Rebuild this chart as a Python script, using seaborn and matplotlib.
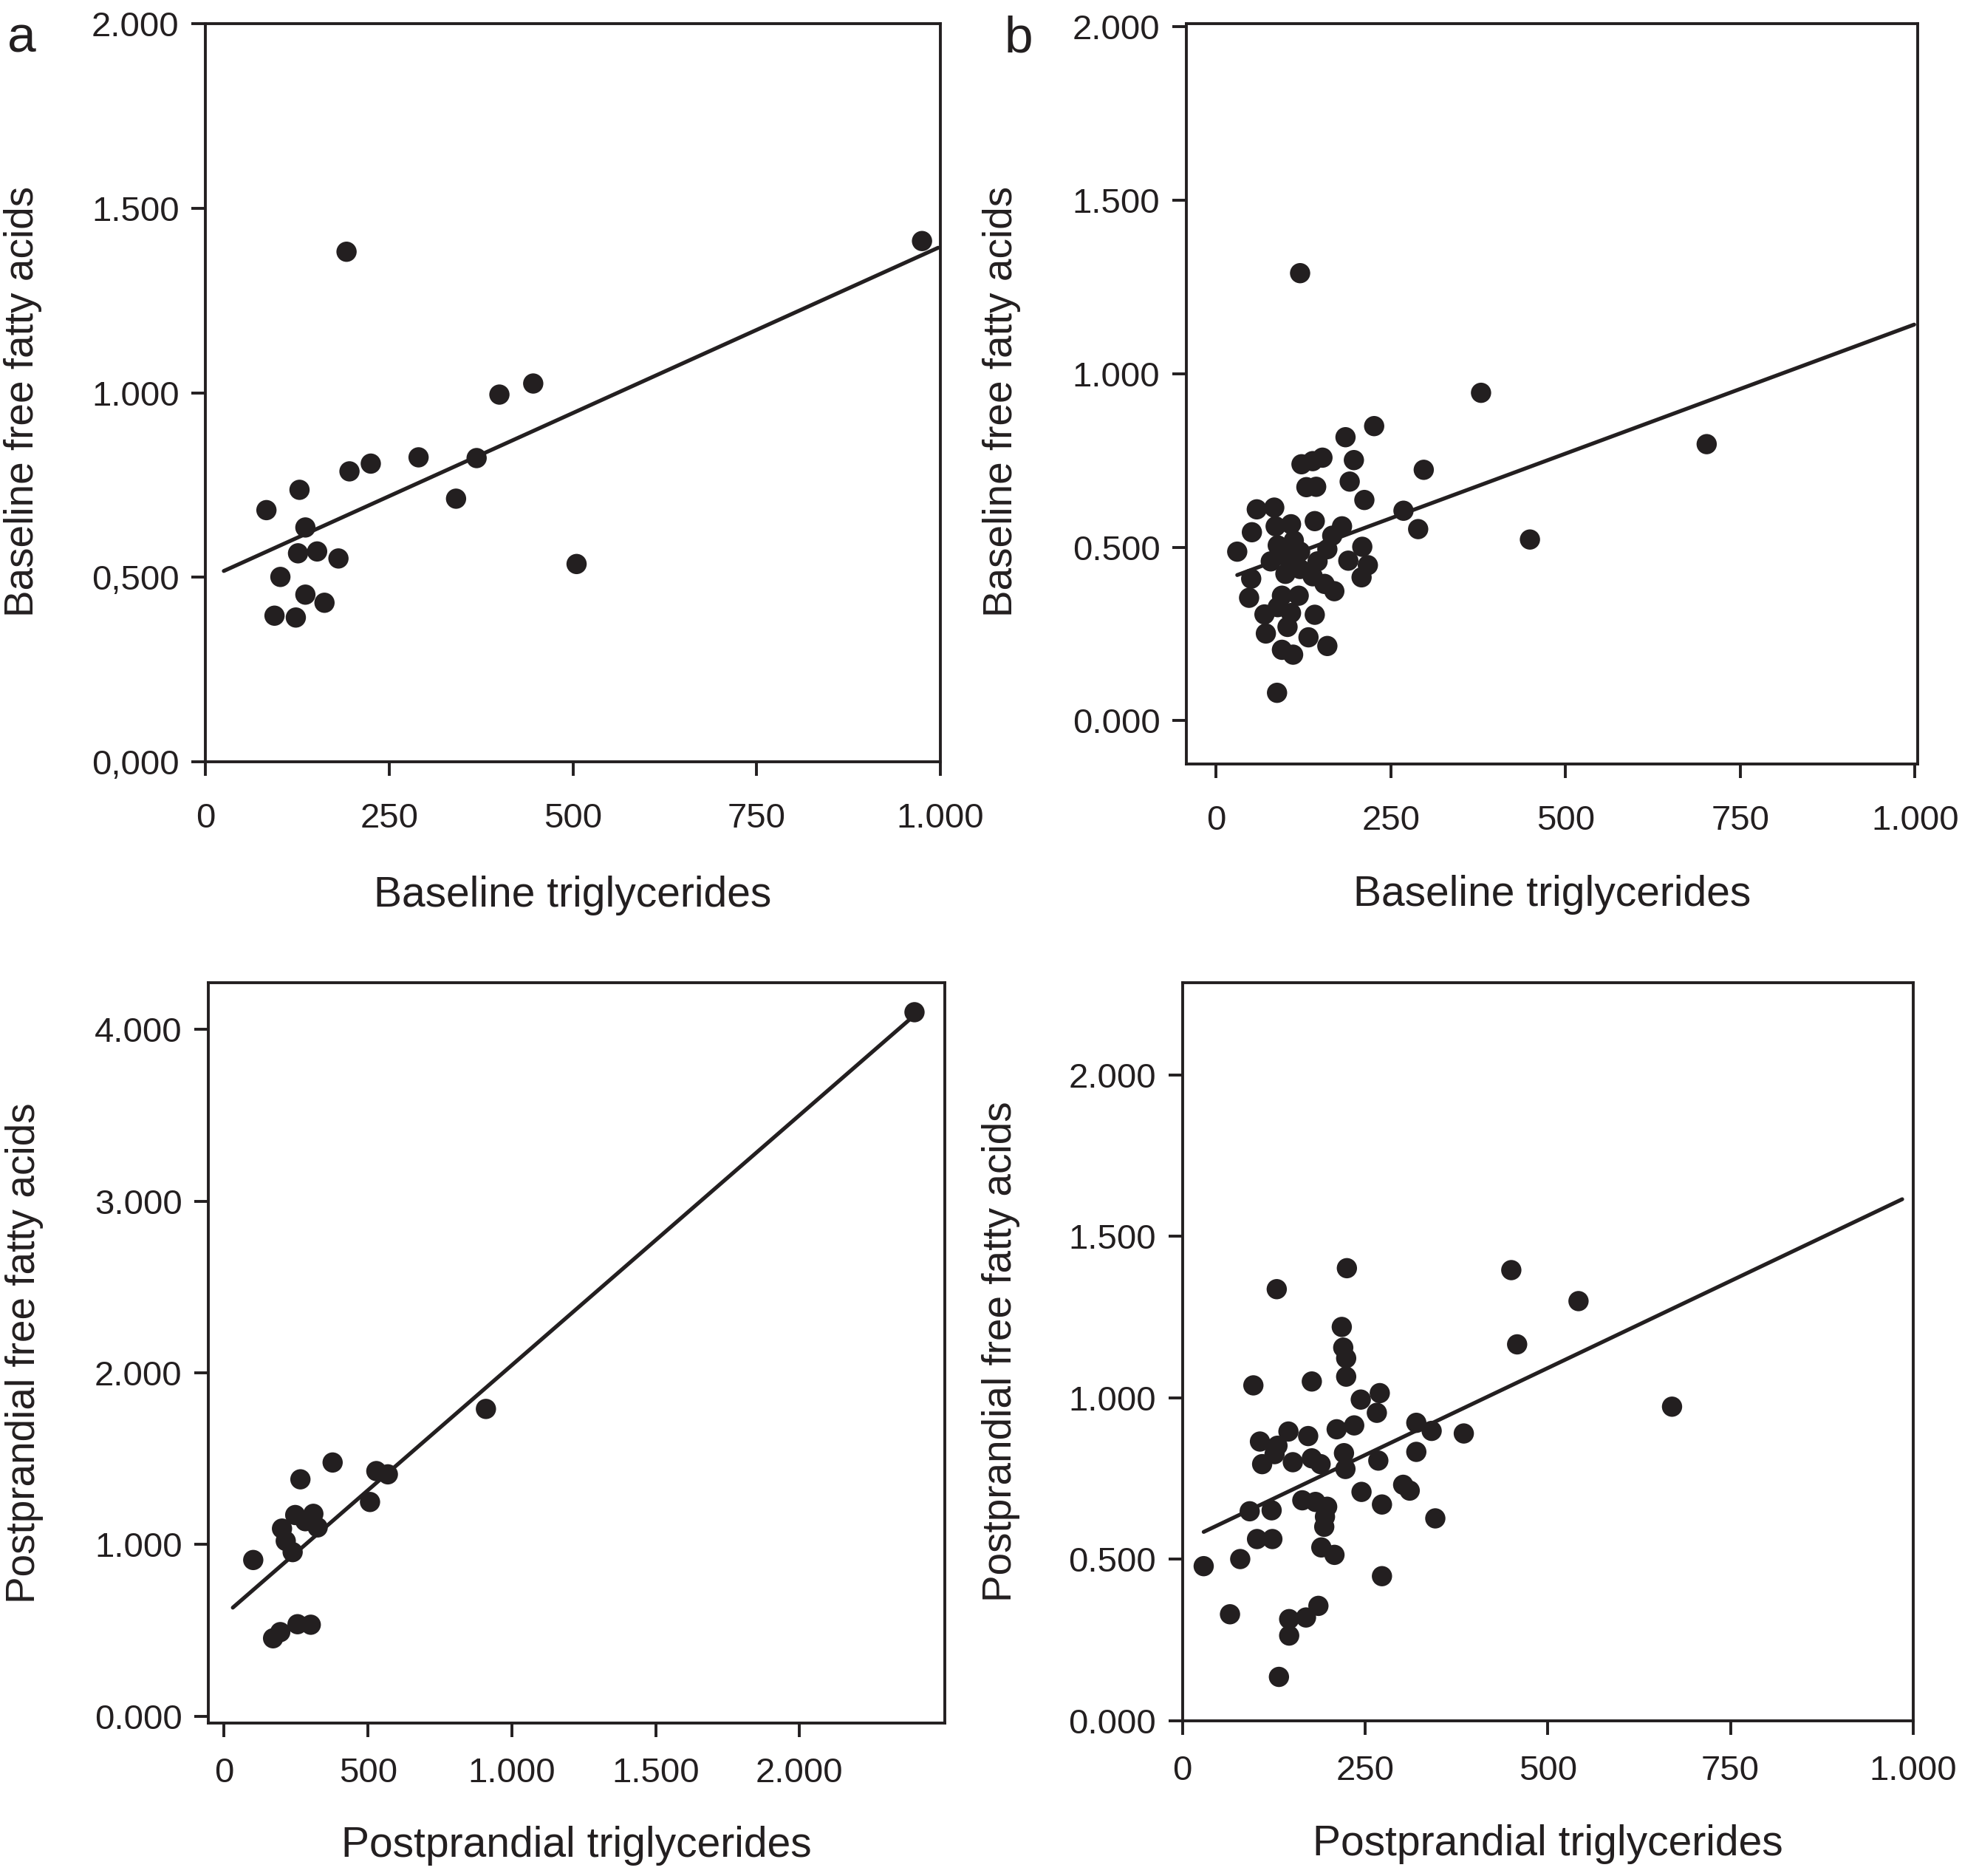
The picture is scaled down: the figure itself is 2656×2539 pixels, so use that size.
import numpy as np
import pandas as pd
import matplotlib
matplotlib.use("Agg")
import matplotlib.pyplot as plt
import seaborn as sns

# ---------------- data ----------------
a_tg = [83, 128, 192, 196, 225, 290, 369, 341, 400, 446, 505, 975, 136, 126, 152,
        181, 102, 136, 162, 94, 123]
a_ffa = [682, 737, 1382, 787, 808, 825, 823, 713, 995, 1025, 536, 1411, 635, 565, 570,
         551, 501, 453, 431, 396, 391]

b_tg = [226, 185, 197, 191, 212, 297, 268, 289, 122, 138, 152, 129, 143,
        58, 83, 51, 30, 85, 107, 141, 180, 166, 159, 209, 189, 217, 208, 50, 47,
        88, 111, 120, 78, 99, 120, 145, 138, 155, 169, 102,
        94, 118, 69, 88, 107, 141, 102, 71, 132, 159, 94, 110, 87,
        379, 449, 702, 120]
b_ffa = [849, 817, 751, 689, 636, 723, 605, 552, 739, 748, 758, 673, 674,
         609, 614, 543, 487, 560, 566, 575, 560, 533, 494, 501, 461, 448, 413, 409, 354,
         505, 519, 487, 459, 423, 437, 459, 416, 394, 373, 469,
         360, 360, 306, 327, 310, 305, 270, 251, 240, 215, 204, 190, 80,
         945, 522, 797, 1290]

c_tg = [2400, 910, 377, 265, 529, 569, 507, 247, 310, 201, 325, 214, 238, 282,
        101, 170, 195, 255, 301]
c_ffa = [4100, 1789, 1477, 1379, 1427, 1408, 1247, 1171, 1178, 1092, 1099, 1020, 955,
         1135, 909, 453, 489, 535, 532]

d_tg = [225, 129, 218, 220, 224, 224, 97, 177, 244, 270,
        266, 145, 172, 106, 130, 126, 109, 151, 177, 189,
        211, 235, 221, 223, 268, 320, 341, 320, 245, 302,
        311, 273, 346, 92, 122, 164, 182, 198, 195, 194,
        102, 123, 190, 208, 29, 79, 273, 65, 146, 169,
        186, 146, 132, 450, 542, 458, 385, 670]
d_ffa = [1401, 1336, 1219, 1155, 1122, 1065, 1038, 1050, 994, 1014,
         953, 895, 881, 864, 851, 825, 794, 800, 812, 794,
         902, 914, 828, 779, 805, 922, 897, 832, 708, 730,
         712, 669, 626, 648, 651, 682, 677, 662, 631, 600,
         562, 562, 536, 513, 478, 500, 447, 329, 314, 319,
         355, 263, 135, 1395, 1299, 1165, 889, 972]

# tick values / labels
x_ticks_1000 = [0, 250, 500, 750, 1000]
x_labels_1000 = ["0", "250", "500", "750", "1.000"]
y_ticks_2000 = [0, 500, 1000, 1500, 2000]
y_labels_a = ["0,000", "0,500", "1.000", "1.500", "2.000"]
y_labels_dot = ["0.000", "0.500", "1.000", "1.500", "2.000"]
x_ticks_c = [0, 500, 1000, 1500, 2000]
x_labels_c = ["0", "500", "1.000", "1.500", "2.000"]
y_ticks_c = [0, 1000, 2000, 3000, 4000]
y_labels_c = ["0.000", "1.000", "2.000", "3.000", "4.000"]

# ---------------- style ----------------
sns.set_style("ticks")
plt.rcParams['font.family'] = ['Liberation Sans', 'DejaVu Sans']
INK = "#231f20"

fig = plt.figure(figsize=(26.56, 25.39), dpi=100)

panels = [
    dict(x=a_tg, y=a_ffa, rect=[0.1047, 0.5939, 0.3746, 0.3935],
         xlim=(0, 1000), ylim=(0, 2000), span=(25, 997),
         xt=x_ticks_1000, xl=x_labels_1000, yt=y_ticks_2000, yl=y_labels_a,
         xlabel="Baseline triglycerides", ylabel="Baseline free fatty acids",
         xlab_y=-0.154, ylab_x=-0.222, ylab_y=0.4885, xpad=26),
    dict(x=b_tg, y=b_ffa, rect=[0.6046, 0.5928, 0.3728, 0.3947],
         xlim=(-43, 1004), ylim=(-125, 2010), span=(30, 999),
         xt=x_ticks_1000, xl=x_labels_1000, yt=y_ticks_2000, yl=y_labels_dot,
         xlabel="Baseline triglycerides", ylabel="Baseline free fatty acids",
         xlab_y=-0.150, ylab_x=-0.226, ylab_y=0.4895, xpad=26),
    dict(x=c_tg, y=c_ffa, rect=[0.1062, 0.0816, 0.3753, 0.3944],
         xlim=(-55, 2505), ylim=(-40, 4270), span=(30, 2407),
         xt=x_ticks_c, xl=x_labels_c, yt=y_ticks_c, yl=y_labels_c,
         xlabel="Postprandial triglycerides", ylabel="Postprandial free fatty acids",
         xlab_y=-0.139, ylab_x=-0.2234, ylab_y=0.5, xpad=20),
    dict(x=d_tg, y=d_ffa, rect=[0.6027, 0.0829, 0.3724, 0.3934],
         xlim=(0, 1000), ylim=(0, 2286), span=(29, 985),
         xt=x_ticks_1000, xl=x_labels_1000, yt=y_ticks_2000, yl=y_labels_dot,
         xlabel="Postprandial triglycerides", ylabel="Postprandial free fatty acids",
         xlab_y=-0.141, ylab_x=-0.222, ylab_y=0.5, xpad=20),
]

for p in panels:
    ax = fig.add_axes(p["rect"])
    df = pd.DataFrame({"tg": p["x"], "ffa": p["y"]})
    # regression line spans a fixed x-range like the original fit line
    ax.set_xlim(*p["span"])
    sns.regplot(data=df, x="tg", y="ffa", ax=ax, ci=None, truncate=False,
                scatter_kws=dict(s=390, color=INK, edgecolors="none", alpha=1, zorder=3),
                line_kws=dict(color=INK, lw=3.8, zorder=2))
    ax.set_xlim(*p["xlim"])
    ax.set_ylim(*p["ylim"])
    ax.set_xticks(p["xt"])
    ax.set_xticklabels(p["xl"])
    ax.set_yticks(p["yt"])
    ax.set_yticklabels(p["yl"])
    ax.tick_params(axis="both", direction="out", length=13.5, width=2.8,
                   color=INK, labelcolor=INK, labelsize=34)
    ax.tick_params(axis="x", pad=p["xpad"])
    ax.tick_params(axis="y", pad=12)
    for s in ax.spines.values():
        s.set_visible(True)
        s.set_linewidth(2.8)
        s.set_color(INK)
    ax.set_xlabel(p["xlabel"], fontsize=41, color=INK)
    ax.set_ylabel(p["ylabel"], fontsize=39.5, color=INK)
    ax.xaxis.set_label_coords(0.5, p["xlab_y"])
    ax.yaxis.set_label_coords(p["ylab_x"], p["ylab_y"])

fig.text(0.0038, 0.9724, "a", fontsize=50, color=INK, ha="left", va="baseline")
fig.text(0.5120, 0.9724, "b", fontsize=50, color=INK, ha="left", va="baseline")

fig.savefig("out.png", dpi=100, facecolor="white")
